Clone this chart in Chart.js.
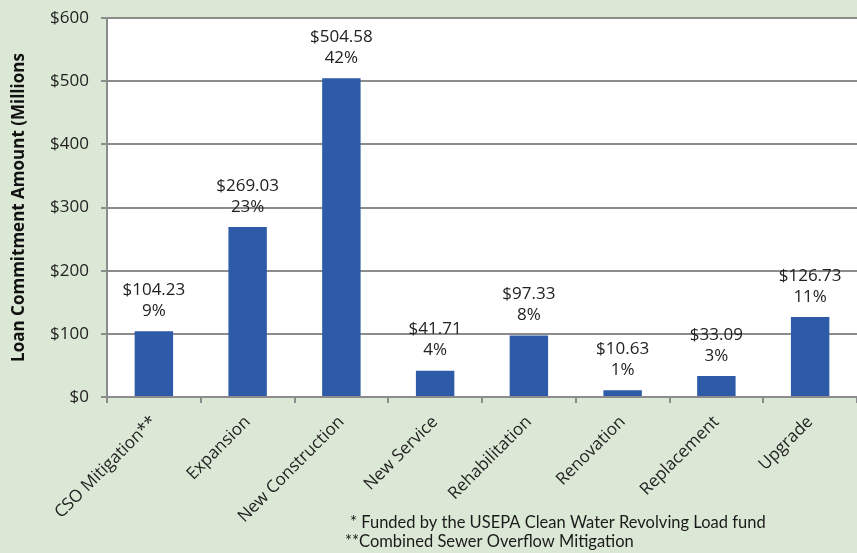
<!DOCTYPE html>
<html>
<head>
<meta charset="utf-8">
<script src="https://cdn.jsdelivr.net/npm/chart.js@4"></script>
<style>
  html, body { margin: 0; padding: 0; background: #dce8d6; }
  #wrap { width: 857px; height: 553px; position: relative; }
</style>
</head>
<body>
<div id="wrap"><canvas id="chart1"></canvas></div>
<script>
var categories = ["CSO Mitigation**", "Expansion", "New Construction", "New Service",
    "Rehabilitation", "Renovation", "Replacement", "Upgrade"];
var amounts = [104.23, 269.03, 504.58, 41.71, 97.33, 10.63, 33.09, 126.73];
var shares = [9, 23, 42, 4, 8, 1, 3, 11];
var yTickValues = [0, 100, 200, 300, 400, 500, 600];
var footnotes = ["* Funded by the USEPA Clean Water Revolving Load fund", "**Combined Sewer Overflow Mitigation"];

var gridColor = "#8c8c8c";
var textFont = "'Open Sans', sans-serif";

// white plot area behind the bars
var plotBg = {
    id: "plotBg",
    beforeDraw: function (chart) {
        var a = chart.chartArea, c = chart.ctx;
        c.save();
        c.fillStyle = "#ffffff";
        c.fillRect(a.left, a.top, a.right - a.left, a.bottom - a.top);
        c.restore();
    }
};

// value + percent above each bar
var barLabels = {
    id: "barLabels",
    afterDatasetsDraw: function (chart) {
        var c = chart.ctx;
        var meta = chart.getDatasetMeta(0);
        c.save();
        c.font = "17px " + textFont;
        c.fillStyle = "#222";
        c.textAlign = "center";
        c.textBaseline = "middle";
        meta.data.forEach(function (bar, i) {
            c.fillText("$" + amounts[i].toFixed(2), bar.x, bar.y - 41);
            c.fillText(shares[i] + "%", bar.x, bar.y - 20);
        });
        c.restore();
    }
};

var notes = {
    id: "notes",
    afterDraw: function (chart) {
        var c = chart.ctx;
        c.save();
        c.font = "16.5px Lato, sans-serif";
        c.fillStyle = "#1a1a1a";
        c.textBaseline = "middle";
        c.fillText(footnotes[0], 350, 523);
        c.fillText(footnotes[1], 345, 542);
        c.restore();
    }
};

var ctx = document.getElementById("chart1").getContext("2d");
var myChart = new Chart(ctx, {
    type: "bar",
    data: {
        labels: categories,
        datasets: [
            {
                label: "Loan Commitment",
                data: amounts,
                backgroundColor: "#2d5ba8",
                barPercentage: 0.41,
                categoryPercentage: 1.0
            }
        ]
    },
    plugins: [plotBg, barLabels, notes],
    options: {
        responsive: true,
        maintainAspectRatio: false,
        animation: false,
        layout: { padding: { top: 18, right: 0, bottom: 0, left: 9 } },
        plugins: {
            legend: { display: false },
            tooltip: { enabled: false }
        },
        scales: {
            x: {
                offset: true,
                grid: {
                    offset: true,
                    drawOnChartArea: false,
                    color: gridColor,
                    lineWidth: 2,
                    tickLength: 6
                },
                border: { color: gridColor, width: 2 },
                ticks: {
                    color: "#222",
                    font: { family: textFont, size: 17 },
                    minRotation: 45,
                    maxRotation: 45,
                    padding: 9,
                    autoSkip: false
                },
                afterFit: function (scale) { scale.height = 156; }
            },
            y: {
                min: 0,
                max: 600,
                afterBuildTicks: function (scale) {
                    scale.ticks = yTickValues.map(function (v) { return { value: v }; });
                },
                grid: {
                    color: gridColor,
                    lineWidth: 2,
                    tickLength: 6
                },
                border: { color: gridColor, width: 2 },
                ticks: {
                    color: "#222",
                    font: { family: textFont, size: 17 },
                    padding: 12,
                    callback: function (v) { return "$" + v; }
                },
                title: {
                    display: true,
                    text: "Loan Commitment Amount (Millions",
                    color: "#111",
                    font: { family: textFont, size: 17, weight: "bold" },
                    padding: { top: 0, bottom: 0 }
                },
                afterFit: function (scale) {
                    scale.width = 98;
                    scale.paddingTop = 0;
                    scale.paddingBottom = 0;
                }
            }
        }
    }
});
</script>
</body>
</html>
